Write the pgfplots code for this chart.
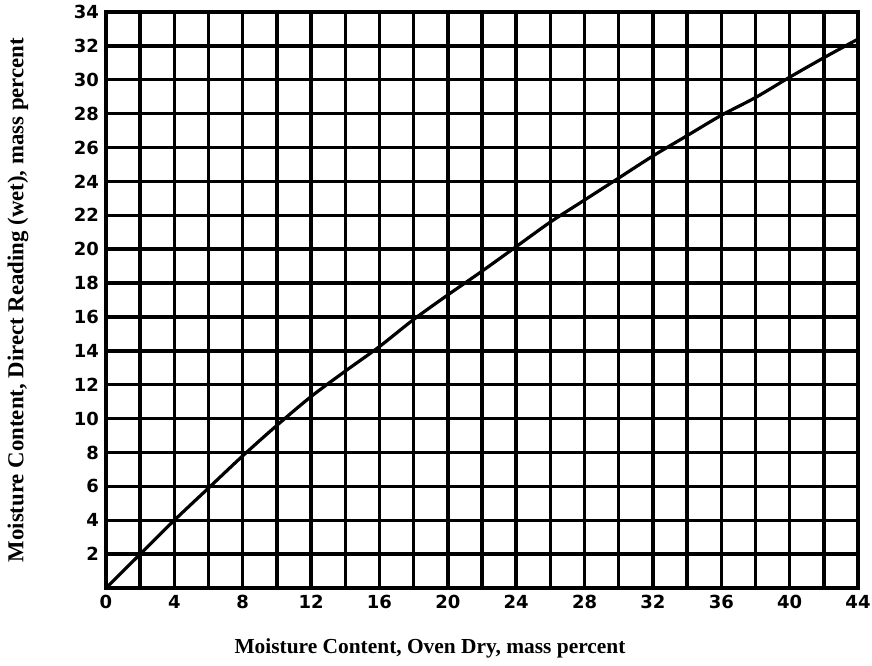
\documentclass[border=0pt]{standalone}
\usepackage{fontspec}
\setmainfont{Liberation Serif}
\newfontfamily\tickfont{DejaVu Sans}
\usepackage{pgfplots}
\pgfplotsset{compat=1.18}
\begin{document}
\begin{tikzpicture}
\begin{axis}[
  scale only axis,
  width=376pt, height=288pt,
  xmin=0, xmax=44, ymin=0, ymax=34,
  xtick={0,2,...,44},
  xticklabels={0,,4,,8,,12,,16,,20,,24,,28,,32,,36,,40,,44},
  ytick={0,2,...,34},
  yticklabels={,2,4,6,8,10,12,14,16,18,20,22,24,26,28,30,32,34},
  major tick length=0pt,
  grid=major,
  major grid style={black, line width=1.7pt},
  axis line style={black, line width=2pt},
  /pgf/number format/assume math mode=true,
  tick label style={font=\tickfont\bfseries\fontsize{9}{10}\selectfont},
  clip=false,
]
\addplot[black, line width=1.6pt, smooth] coordinates {
 (0,0) (2,2.0) (4,4.0) (6,5.9) (8,7.8) (10,9.6) (12,11.3) (14,12.8) (16,14.25) (18,15.85)
 (20,17.3) (22,18.7) (24,20.15) (26,21.6) (28,22.9) (30,24.2) (32,25.5) (34,26.7)
 (36,27.9) (38,28.95) (40,30.15) (42,31.3) (44,32.4)
};
\coordinate (ll) at (rel axis cs:0,0);
\coordinate (ur) at (rel axis cs:1,1);
\coordinate (xl) at (rel axis cs:0.5,0);
\coordinate (yl) at (rel axis cs:0,0.5);
\end{axis}
\node[font=\bfseries\fontsize{10.7}{12}\selectfont] at ([xshift=-26pt,yshift=-30pt]xl) {Moisture Content, Oven Dry, mass percent};
\node[rotate=90, font=\bfseries\fontsize{11.4}{13}\selectfont] at ([xshift=-44pt]yl) {Moisture Content, Direct Reading (wet), mass percent};
\pgfresetboundingbox
\path ([shift={(-53pt,-39pt)}]ll) rectangle ([shift={(7pt,6pt)}]ur);
\end{tikzpicture}
\end{document}
